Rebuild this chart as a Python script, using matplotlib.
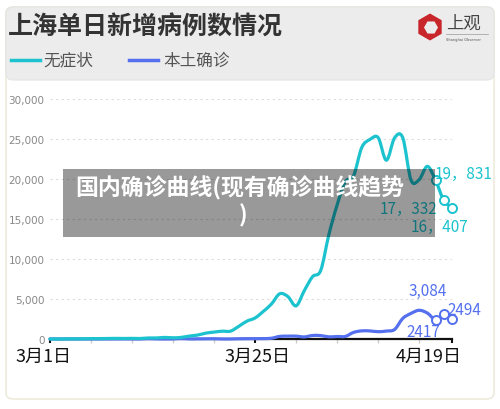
import numpy as np
import matplotlib
matplotlib.use("Agg")
import matplotlib.pyplot as plt
from matplotlib.path import Path
from matplotlib.patches import PathPatch, FancyBboxPatch, Rectangle, RegularPolygon
from matplotlib.lines import Line2D

plt.rcParams['font.family'] = ['Noto Sans CJK SC', 'DejaVu Sans']

# data: 3/1 .. 4/19 (50 days)
days = list(range(50))
asymptomatic = [1, 3, 14, 16, 28, 45, 51, 62, 76, 64,
                78, 64, 128, 130, 197, 150, 203, 366, 492, 734,
                865, 977, 979, 1580, 2231, 2631, 3450, 4381, 5656, 5298,
                4144, 6051, 7788, 8581, 13086, 16766, 19660, 20398, 23937, 24944,
                25173, 22348, 25141, 25146, 19872, 19923, 21582, 19831, 17332, 16407]
confirmed = [1, 0, 2, 3, 0, 3, 3, 3, 4, 11,
             5, 1, 41, 9, 5, 8, 57, 8, 17, 24,
             31, 4, 4, 29, 38, 45, 50, 96, 326, 355,
             358, 260, 438, 425, 268, 311, 322, 824, 1015, 1006,
             914, 994, 1189, 2573, 3200, 3590, 3238, 2417, 3084, 2494]
asym_labels = ["19，831", "17，332", "16，407"]
conf_labels = ["2417", "3,084", "2494"]
y_ticks = [0, 5000, 10000, 15000, 20000, 25000, 30000]
y_tick_labels = ["0", "5,000", "10,000", "15,000", "20,000", "25,000", "30,000"]
x_labels = ["3月1日", "3月25日", "4月19日"]
x_label_pos = [-0.85, 25.35, 46.1]

CYAN = "#1cc3cf"
BLUE = "#5470ee"


def fx(px):
    return px / 500


def fy(py):
    return 1 - py / 410


def smooth_path(xs, ys, t=1 / 6):
    # catmull-rom style bezier through every point
    pts = np.column_stack([xs, ys]).astype(float)
    n = len(pts)
    verts = [pts[0]]
    codes = [Path.MOVETO]
    for i in range(n - 1):
        p0 = pts[max(i - 1, 0)]
        p1 = pts[i]
        p2 = pts[i + 1]
        p3 = pts[min(i + 2, n - 1)]
        c1 = p1 + (p2 - p0) * t
        c2 = p2 - (p3 - p1) * t
        verts += [c1, c2, p2]
        codes += [Path.CURVE4] * 3
    return Path(verts, codes)


fig = plt.figure(figsize=(5, 4.1), dpi=100)
fig.patch.set_facecolor("white")

# card + header
fig.add_artist(FancyBboxPatch((fx(6), fy(400)), fx(488), 392 / 410,
                              boxstyle="round,pad=0,rounding_size=0.015",
                              transform=fig.transFigure, facecolor="white",
                              edgecolor="#ecebdc", lw=1.2, zorder=-2))
fig.add_artist(FancyBboxPatch((fx(6), fy(81)), fx(488), 73 / 410,
                              boxstyle="round,pad=0,rounding_size=0.015",
                              transform=fig.transFigure, facecolor="#ececec",
                              edgecolor="#e4e4e4", lw=0.8, zorder=-1))

fig.text(fx(8), fy(28), "上海单日新增病例数情况", fontsize=18, fontweight="bold",
         color="#333333", va="center", ha="left")

# legend
fig.add_artist(Line2D([fx(11), fx(40)], [fy(61), fy(61)], color=CYAN, lw=2.5,
                      transform=fig.transFigure))
fig.text(fx(43), fy(61), "无症状", fontsize=12, color="#555555", va="center")
fig.add_artist(Line2D([fx(129), fx(158)], [fy(61), fy(61)], color=BLUE, lw=2.5,
                      transform=fig.transFigure))
fig.text(fx(163), fy(61), "本土确诊", fontsize=12, color="#555555", va="center")

# logo (inches transform keeps the hexagon regular)
fig.add_artist(RegularPolygon((4.30, 4.10 - 0.28), 6, radius=0.135,
                              orientation=0, transform=fig.dpi_scale_trans,
                              facecolor="#c8262b", edgecolor="none"))
fig.add_artist(RegularPolygon((4.31, 4.10 - 0.285), 6, radius=0.07,
                              orientation=np.pi / 6, transform=fig.dpi_scale_trans,
                              facecolor="#ececec", edgecolor="none"))
fig.text(fx(446), fy(24), "上观", fontsize=12.5, color="#444444", va="center")
fig.add_artist(Line2D([fx(446), fx(488)], [fy(35), fy(35)], color="#999999",
                      lw=0.5, transform=fig.transFigure))
fig.text(fx(446), fy(39.5), "Shanghai Observer", fontsize=2.6, color="#555555",
         va="center", family="DejaVu Sans")

# main axes
ax = fig.add_axes([fx(50), fy(340), fx(402), 240 / 410])
ax.set_facecolor("none")
ax.set_xlim(0, 49)
ax.set_ylim(0, 30000)

ax.set_yticks(y_ticks)
ax.set_yticklabels(y_tick_labels, fontsize=7.5, color="#888888",
                   family="DejaVu Sans")
ax.tick_params(axis="y", length=0, pad=4)
ax.yaxis.grid(True, linestyle=(0, (2, 3)), color="#dcdcdc", lw=0.8)
ax.set_axisbelow(True)

ax.set_xticks([0, 25, 49])
ax.set_xticklabels([])
ax.set_xticks([5, 10, 15, 20, 30, 35, 40, 45], minor=True)
ax.tick_params(axis="x", which="major", length=3, width=1.5, color="#111111")
ax.tick_params(axis="x", which="minor", length=3, width=1, color="#cccccc")
for s in ["top", "right", "left"]:
    ax.spines[s].set_visible(False)
ax.spines["bottom"].set_color("#111111")
ax.spines["bottom"].set_linewidth(1.6)
ax.spines["bottom"].set_zorder(1)

for lab, pos in zip(x_labels, x_label_pos):
    ax.annotate(lab, xy=(pos, 0), xycoords=("data", "axes fraction"),
                xytext=(0, -12), textcoords="offset points",
                ha="center", va="center", fontsize=13, color="#111111",
                annotation_clip=False)

# lines
for vals, col in [(confirmed, BLUE), (asymptomatic, CYAN)]:
    patch = PathPatch(smooth_path(days, vals), fill=False, edgecolor=col,
                      lw=2.3, capstyle="round", joinstyle="round",
                      zorder=3, clip_on=False)
    ax.add_patch(patch)
    ax.plot(days[-3:], vals[-3:], "o", mfc="white", mec=col, ms=6.5, mew=1.4,
            zorder=4, clip_on=False)

# value labels (pixel offsets converted to points)
k = 72 / 100
asym_off = [((-1 * k, 7 * k), "left"), ((-7 * k, -8 * k), "right"),
            ((-12 * k, -19 * k), "center")]
conf_off = [((-12 * k, -12 * k), "center"), ((-16 * k, 24 * k), "center"),
            ((-5 * k, 10 * k), "left")]
for i, (lab, (off, ha)) in enumerate(zip(asym_labels, asym_off)):
    ax.annotate(lab, xy=(days[-3 + i], asymptomatic[-3 + i]), xytext=off,
                textcoords="offset points", ha=ha, va="center",
                fontsize=11, color=CYAN, annotation_clip=False, zorder=5)
for i, (lab, (off, ha)) in enumerate(zip(conf_labels, conf_off)):
    ax.annotate(lab, xy=(days[-3 + i], confirmed[-3 + i]), xytext=off,
                textcoords="offset points", ha=ha, va="center",
                fontsize=11, color=BLUE, annotation_clip=False, zorder=5)

# overlay banner
fig.add_artist(Rectangle((fx(63), fy(238)), fx(372), 68 / 410,
                         transform=fig.transFigure, facecolor="black",
                         alpha=0.4, edgecolor="none", zorder=10))
fig.text(fx(240), fy(188), "国内确诊曲线(现有确诊曲线趋势", fontsize=16.5,
         fontweight="heavy", color="white", ha="center", va="center", zorder=11)
fig.text(fx(243), fy(216), ")", fontsize=16.5,
         fontweight="heavy", color="white", ha="center", va="center", zorder=11)

fig.savefig("out.png", dpi=100)
